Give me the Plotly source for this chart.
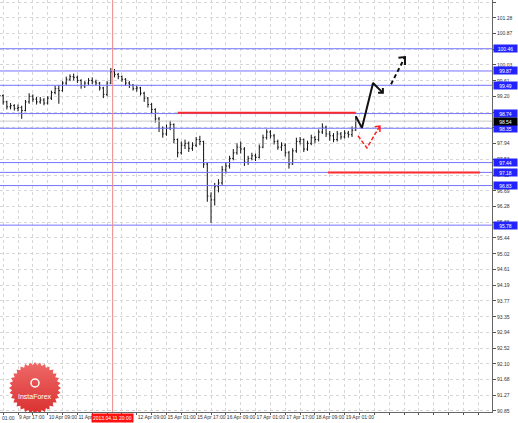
import numpy as np
import plotly.graph_objects as go

# ---------------- data ----------------
bar_hours = list(range(-10, 183, 2))  # 2-hour bars, hour 0 = 9 Apr 17:00

opens = [99.30, 99.22, 99.05, 98.92, 98.95, 98.88, 98.90, 98.82, 99.05, 99.20,
         99.12, 99.05, 99.10, 99.02, 99.15, 99.30, 99.40, 99.35, 99.55, 99.65,
         99.72, 99.70, 99.62, 99.48, 99.55, 99.62, 99.58, 99.55, 99.42, 99.25,
         99.55, 99.85, 99.78, 99.72, 99.65, 99.55, 99.50, 99.40, 99.42, 99.28,
         99.15, 98.98, 98.85, 98.60, 98.35, 98.20, 98.35, 98.45, 98.05, 97.70,
         97.90, 97.95, 97.82, 97.90, 98.05, 98.00, 97.40, 96.55, 96.45, 96.80,
         96.90, 97.25, 97.35, 97.55, 97.70, 97.85, 97.80, 97.45, 97.55, 97.62,
         97.58, 97.85, 98.10, 98.25, 98.15, 98.00, 97.85, 97.90, 97.70, 97.40,
         97.75, 98.00, 98.05, 97.80, 97.95, 98.10, 98.05, 98.25, 98.38, 98.20,
         98.15, 98.05, 98.20, 98.12, 98.22, 98.18, 98.30]
highs = [99.38, 99.25, 99.08, 99.02, 98.99, 98.98, 98.95, 99.10, 99.28, 99.25,
         99.18, 99.18, 99.15, 99.20, 99.35, 99.48, 99.50, 99.60, 99.72, 99.78,
         99.80, 99.75, 99.65, 99.60, 99.68, 99.70, 99.64, 99.58, 99.45, 99.60,
         99.95, 99.92, 99.82, 99.75, 99.68, 99.60, 99.52, 99.48, 99.45, 99.32,
         99.18, 99.02, 98.88, 98.65, 98.40, 98.45, 98.55, 98.48, 98.08, 98.00,
         98.05, 98.00, 97.98, 98.12, 98.15, 98.02, 97.45, 96.65, 96.90, 97.00,
         97.35, 97.45, 97.62, 97.80, 97.95, 98.00, 97.85, 97.62, 97.70, 97.68,
         97.92, 98.18, 98.32, 98.30, 98.20, 98.05, 97.98, 97.95, 97.75, 97.82,
         98.10, 98.12, 98.08, 98.02, 98.18, 98.15, 98.32, 98.48, 98.42, 98.28,
         98.22, 98.28, 98.25, 98.30, 98.28, 98.40, 98.67]
lows = [99.18, 98.98, 98.85, 98.85, 98.82, 98.80, 98.60, 98.80, 99.00, 99.05,
        98.98, 99.00, 98.96, 98.98, 99.10, 99.25, 99.00, 99.32, 99.50, 99.60,
        99.62, 99.55, 99.40, 99.42, 99.50, 99.52, 99.48, 99.35, 99.15, 99.20,
        99.52, 99.70, 99.65, 99.58, 99.48, 99.42, 99.35, 99.32, 99.22, 99.05,
        98.90, 98.75, 98.50, 98.25, 98.10, 98.15, 98.30, 97.95, 97.58, 97.65,
        97.80, 97.72, 97.75, 97.85, 97.90, 97.30, 96.40, 95.84, 96.30, 96.65,
        96.85, 97.15, 97.28, 97.50, 97.65, 97.68, 97.35, 97.38, 97.50, 97.48,
        97.55, 97.82, 98.05, 98.08, 97.92, 97.78, 97.75, 97.60, 97.28, 97.38,
        97.70, 97.92, 97.72, 97.75, 97.90, 97.95, 98.00, 98.20, 98.12, 98.02,
        97.98, 98.00, 98.05, 98.08, 98.10, 98.12, 98.28]
closes = [99.22, 99.05, 98.92, 98.95, 98.88, 98.90, 98.82, 99.05, 99.20, 99.12,
          99.05, 99.10, 99.02, 99.15, 99.30, 99.40, 99.35, 99.55, 99.65, 99.72,
          99.70, 99.62, 99.48, 99.55, 99.62, 99.58, 99.55, 99.42, 99.25, 99.55,
          99.85, 99.78, 99.72, 99.65, 99.55, 99.50, 99.40, 99.42, 99.28, 99.15,
          98.98, 98.85, 98.60, 98.35, 98.20, 98.35, 98.45, 98.05, 97.70, 97.90,
          97.95, 97.82, 97.90, 98.05, 98.00, 97.40, 96.55, 96.45, 96.80, 96.90,
          97.25, 97.35, 97.55, 97.70, 97.85, 97.80, 97.45, 97.55, 97.62, 97.58,
          97.85, 98.10, 98.25, 98.15, 98.00, 97.85, 97.90, 97.70, 97.40, 97.75,
          98.00, 98.05, 97.80, 97.95, 98.10, 98.05, 98.25, 98.38, 98.20, 98.15,
          98.05, 98.20, 98.12, 98.22, 98.18, 98.30, 98.54]

level_lines = [100.46, 99.87, 99.49, 98.74, 98.35, 97.44, 97.18, 96.83, 95.78]
level_labels = ["100.46", "99.87", "99.49", "98.74", "98.35", "97.44", "97.18", "96.83", "95.78"]
current_price = 98.54

resistance = {"x": [86, 182], "y": [98.76, 98.76]}
support = {"x": [167, 249], "y": [97.18, 97.18]}
marker_hour = 51
marker_label = "2013.04.11 20:00"

# forecast drawings (hour, price)
fc_solid_x = [182, 185.3, 191.3, 196.6]
fc_solid_y = [98.67, 98.36, 99.55, 99.29]
fc_solid_head_x = [194.0, 196.6, 196.6]
fc_solid_head_y = [99.29, 99.29, 99.42]
fc_dash_x = [201.0, 208.5]
fc_dash_y = [99.52, 100.24]
fc_dash_head_x = [205.0, 208.5, 208.5]
fc_dash_head_y = [100.22, 100.24, 100.03]
fc_red_x = [183.2, 188.0, 195.0]
fc_red_y = [98.15, 97.83, 98.41]
fc_red_head_x = [192.3, 195.0, 195.0]
fc_red_head_y = [98.39, 98.41, 98.25]

y_tick_vals = [90.85, 91.27, 91.68, 92.10, 92.52, 92.94, 93.35, 93.77, 94.19, 94.61,
               95.02, 95.44, 95.86, 96.28, 96.69, 97.11, 97.53, 97.94, 98.36, 98.78,
               99.20, 99.61, 100.03, 100.45, 100.87, 101.28, 101.70]
x_tick_hours = [0, 16, 32, 64, 80, 96, 112, 128, 144, 160, 176]
x_tick_labels = ["9 Apr 17:00", "10 Apr 09:00", "11 Apr 01:00", "12 Apr 09:00",
                 "15 Apr 01:00", "15 Apr 17:00", "16 Apr 09:00", "17 Apr 01:00",
                 "17 Apr 17:00", "18 Apr 09:00", "19 Apr 01:00"]

# ---------------- layout helpers ----------------
X0, X1 = -9.7, 255.4
Y0, Y1 = 90.823, 101.753
PW, PH = 492, 412


def px_x(px):
    return X0 + px / PW * (X1 - X0)


def px_y(py):
    return Y1 - py / PH * (Y1 - Y0)


FONT = "Liberation Sans"
fig = go.Figure()

# logo (starburst) - drawn first, clipped by plot area
n_teeth = 32
ang = np.linspace(0, 2 * np.pi, 2 * n_teeth + 1)
rad = np.where(np.arange(2 * n_teeth + 1) % 2 == 0, 26.0, 23.0)
cx, cy = 35, 388
fig.add_trace(go.Scatter(
    x=[px_x(cx + r * np.cos(a)) for r, a in zip(rad, ang)],
    y=[px_y(cy + r * np.sin(a)) for r, a in zip(rad, ang)],
    mode="lines", line=dict(width=0), fill="toself",
    fillgradient=dict(type="vertical", colorscale=[[0, "#d93030"], [1, "#ee6a68"]]),
    hoverinfo="skip", showlegend=False))

# horizontal blue levels
for lv in level_lines:
    fig.add_trace(go.Scatter(x=[X0, X1], y=[lv, lv], mode="lines",
                             line=dict(color="#7474ff", width=1),
                             hoverinfo="skip", showlegend=False))
fig.add_trace(go.Scatter(x=[X0, X1], y=[current_price, current_price], mode="lines",
                         line=dict(color="#c8c8c8", width=1),
                         hoverinfo="skip", showlegend=False))

# red vertical marker
fig.add_trace(go.Scatter(x=[marker_hour, marker_hour], y=[Y0, Y1], mode="lines",
                         line=dict(color="#ee8888", width=1),
                         hoverinfo="skip", showlegend=False))

# red support / resistance
for seg in (resistance, support):
    fig.add_trace(go.Scatter(x=seg["x"], y=seg["y"], mode="lines",
                             line=dict(color="#ff2a2a", width=2),
                             hoverinfo="skip", showlegend=False))

# price bars
fig.add_trace(go.Ohlc(x=bar_hours, open=opens, high=highs, low=lows, close=closes,
                      increasing=dict(line=dict(color="#111111", width=1)),
                      decreasing=dict(line=dict(color="#111111", width=1)),
                      tickwidth=0.3, hoverinfo="skip", showlegend=False))

# forecast arrows
fig.add_trace(go.Scatter(x=fc_solid_x, y=fc_solid_y, mode="lines",
                         line=dict(color="#111111", width=2), hoverinfo="skip", showlegend=False))
fig.add_trace(go.Scatter(x=fc_solid_head_x, y=fc_solid_head_y, mode="lines",
                         line=dict(color="#111111", width=2), hoverinfo="skip", showlegend=False))
fig.add_trace(go.Scatter(x=fc_dash_x, y=fc_dash_y, mode="lines",
                         line=dict(color="#111111", width=2, dash="4px,3px"), hoverinfo="skip", showlegend=False))
fig.add_trace(go.Scatter(x=fc_dash_head_x, y=fc_dash_head_y, mode="lines",
                         line=dict(color="#111111", width=2), hoverinfo="skip", showlegend=False))
fig.add_trace(go.Scatter(x=fc_red_x, y=fc_red_y, mode="lines",
                         line=dict(color="#ff2020", width=1.5, dash="4px,2px"), hoverinfo="skip", showlegend=False))
fig.add_trace(go.Scatter(x=fc_red_head_x, y=fc_red_head_y, mode="lines",
                         line=dict(color="#ff2020", width=1.5), hoverinfo="skip", showlegend=False))

annotations = []
for lv, lab in zip(level_lines, level_labels):
    annotations.append(dict(x=1.0, xref="paper", y=lv, yref="y", xanchor="left", yanchor="middle",
                            xshift=1, text=lab, showarrow=False, bgcolor="#2323ff",
                            width=23, height=7, align="center",
                            font=dict(family=FONT, size=5, color="white"), borderpad=0))
annotations.append(dict(x=1.0, xref="paper", y=current_price, yref="y", xanchor="left",
                        yanchor="middle", xshift=1, text=f"{current_price:.2f}", showarrow=False,
                        width=23, height=7, align="center",
                        bgcolor="#000000", font=dict(family=FONT, size=5, color="white"), borderpad=0))
annotations.append(dict(x=marker_hour, xref="x", y=0, yref="paper", yanchor="top", yshift=-1,
                        text=marker_label, showarrow=False, bgcolor="#ff1010",
                        font=dict(family=FONT, size=5, color="white"), borderpad=1))
annotations.append(dict(x=0, xref="paper", y=0, yref="paper", xanchor="left", yanchor="top",
                        yshift=-1, text="01:00", showarrow=False,
                        font=dict(family=FONT, size=5, color="#333333")))
annotations.append(dict(x=px_x(35), xref="x", y=px_y(396), yref="y", text="InstaForex",
                        showarrow=False, font=dict(family=FONT, size=7, color="white")))

fig.update_layout(
    width=518, height=423,
    margin=dict(l=0, r=26, t=0, b=11, autoexpand=False),
    paper_bgcolor="white", plot_bgcolor="white",
    font=dict(family=FONT, size=5, color="#333333"),
    showlegend=False,
    annotations=annotations,
    shapes=[dict(type="circle", xref="x", yref="y",
                 x0=px_x(31), x1=px_x(39), y0=px_y(387), y1=px_y(379),
                 line=dict(color="white", width=1.5), layer="above")],
    xaxis=dict(range=[X0, X1], rangeslider=dict(visible=False), automargin=False,
               tickvals=list(range(-8, 256, 8)),
               ticktext=[x_tick_labels[x_tick_hours.index(h)] if h in x_tick_hours else ""
                         for h in range(-8, 256, 8)],
               tickangle=0,
               ticklabelposition="outside right",
               ticks="outside", ticklen=2, tickcolor="#555555",
               showgrid=True, gridcolor="#d6d6d6", griddash="dot", gridwidth=1,
               showline=True, linecolor="#666666", linewidth=1,
               zeroline=False, tickfont=dict(size=5)),
    yaxis=dict(range=[Y0, Y1], side="right", automargin=False,
               tickvals=y_tick_vals, ticktext=[f"{v:.2f}" for v in y_tick_vals],
               ticks="outside", ticklen=3, tickcolor="#555555",
               showgrid=True, gridcolor="#d6d6d6", griddash="dot", gridwidth=1,
               showline=True, linecolor="#666666", linewidth=1,
               zeroline=False, tickfont=dict(size=5)),
)

fig.write_html("out.html", config={"displayModeBar": False},
               post_script="document.body.style.margin='0';document.body.style.overflow='hidden';")
